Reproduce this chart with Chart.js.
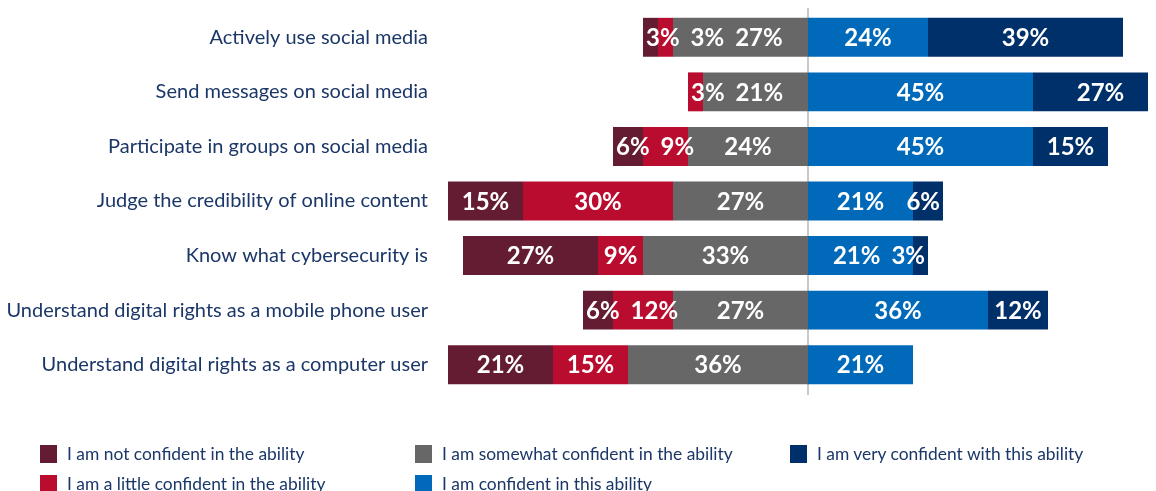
<!DOCTYPE html>
<html>
<head>
<meta charset="utf-8">
<script src="https://cdn.jsdelivr.net/npm/chart.js@4"></script>
<style>
  html, body { margin: 0; padding: 0; background: #fff; overflow: hidden; }
  #wrap { position: relative; width: 1156px; height: 491px; }
  #chartBox { position: absolute; left: 0; top: 0; width: 1156px; height: 400px; }
  #legend { position: absolute; left: 0; top: 0; width: 1156px; height: 491px; pointer-events: none; }
  .item { position: absolute; display: flex; align-items: center; font-family: Lato, "Open Sans", sans-serif; font-size: 17.4px; color: #1b3768; white-space: nowrap; }
  .item span.box { display: inline-block; width: 17px; height: 18px; margin-right: 10px; }
</style>
</head>
<body>
<div id="wrap">
  <div id="chartBox"><canvas id="myChart" width="1156" height="400"></canvas></div>
  <div id="legend"></div>
</div>
<script>
const categories = [
  "Actively use social media",
  "Send messages on social media",
  "Participate in groups on social media",
  "Judge the credibility of online content",
  "Know what cybersecurity is",
  "Understand digital rights as a mobile phone user",
  "Understand digital rights as a computer user"
];

// percentages per answer, one entry per category
const notConfident      = [3, 0, 6, 15, 27, 6, 21];
const littleConfident   = [3, 3, 9, 30, 9, 12, 15];
const somewhatConfident = [27, 21, 24, 27, 33, 27, 36];
const confident         = [24, 45, 45, 21, 21, 36, 21];
const veryConfident     = [39, 27, 15, 6, 3, 12, 0];

const seriesNames = [
  "I am not confident in the ability",
  "I am a little confident in the ability",
  "I am somewhat confident in the ability",
  "I am confident in this ability",
  "I am very confident with this ability"
];
const seriesColors = ["#641c32", "#ba0c2f", "#676767", "#0069b9", "#003069"];

const navy = "#1b3768";

// negative side stacks outward from zero, so the "somewhat" series goes first
const datasets = [
  { label: seriesNames[2], data: somewhatConfident.map(v => -v), backgroundColor: seriesColors[2] },
  { label: seriesNames[1], data: littleConfident.map(v => -v),   backgroundColor: seriesColors[1] },
  { label: seriesNames[0], data: notConfident.map(v => -v),      backgroundColor: seriesColors[0] },
  { label: seriesNames[3], data: confident,                      backgroundColor: seriesColors[3] },
  { label: seriesNames[4], data: veryConfident,                  backgroundColor: seriesColors[4] }
];
datasets.forEach(d => { d.borderWidth = 0; d.barPercentage = 0.713; d.categoryPercentage = 1; });

// zero line behind the bars
const zeroLine = {
  id: 'zeroLine',
  beforeDatasetsDraw(chart) {
    const { ctx, chartArea, scales } = chart;
    const x = Math.round(scales.x.getPixelForValue(0));
    ctx.save();
    ctx.strokeStyle = '#c9c9c9';
    ctx.lineWidth = 2;
    ctx.beginPath();
    ctx.moveTo(x, chartArea.top - 2);
    ctx.lineTo(x, chartArea.bottom + 3);
    ctx.stroke();
    ctx.restore();
  }
};

// white value labels; small segments get their label pushed inward so neighbours don't collide
const valueLabels = {
  id: 'valueLabels',
  afterDatasetsDraw(chart) {
    const { ctx } = chart;
    ctx.save();
    ctx.font = 'bold 24px Lato, "Open Sans", sans-serif';
    ctx.fillStyle = '#fff';
    ctx.textAlign = 'center';
    ctx.textBaseline = 'middle';
    const gap = 11;
    const item = (di, i) => ({ el: chart.getDatasetMeta(di).data[i], v: chart.data.datasets[di].data[i] });
    categories.forEach((c, i) => {
      // left side, outermost first, moving right
      let prevRight = -Infinity;
      [2, 1, 0].map(di => item(di, i)).filter(o => o.v !== 0).forEach((o, k) => {
        const txt = Math.abs(o.v) + '%';
        const w = ctx.measureText(txt).width;
        let cx = (o.el.x + o.el.base) / 2;
        if (k === 0) cx = Math.max(cx, Math.min(o.el.x, o.el.base) + 3 + w / 2);
        cx = Math.max(cx, prevRight + gap + w / 2);
        ctx.fillText(txt, cx, o.el.y + 1);
        prevRight = cx + w / 2;
      });
      // right side, outermost first, moving left
      let prevLeft = Infinity;
      [4, 3].map(di => item(di, i)).filter(o => o.v !== 0).forEach((o, k) => {
        const txt = o.v + '%';
        const w = ctx.measureText(txt).width;
        let cx = (o.el.x + o.el.base) / 2;
        if (k === 0) cx = Math.min(cx, Math.max(o.el.x, o.el.base) - 3 - w / 2);
        cx = Math.min(cx, prevLeft - gap - w / 2);
        ctx.fillText(txt, cx, o.el.y + 1);
        prevLeft = cx - w / 2;
      });
    });
    ctx.restore();
  }
};

const ctx = document.getElementById('myChart').getContext('2d');
const myChart = new Chart(ctx, {
  type: 'bar',
  data: { labels: categories, datasets: datasets },
  options: {
    indexAxis: 'y',
    responsive: false,
    animation: false,
    layout: { padding: { top: 10, bottom: 8, right: 8, left: 0 } },
    plugins: { legend: { display: false }, tooltip: { enabled: false } },
    scales: {
      x: { stacked: true, min: -75, max: 68, display: false },
      y: {
        stacked: true,
        grid: { display: false, drawTicks: false },
        border: { display: false },
        ticks: { padding: 5, color: navy, font: { family: 'Lato, "Open Sans", sans-serif', size: 20 } },
        afterFit(scale) {
          scale.width = 433;
          scale.paddingTop = 0;
          scale.paddingBottom = 0;
        }
      }
    }
  },
  plugins: [zeroLine, valueLabels]
});

// legend laid out in columns: not/little, somewhat/confident, very
const legendColumns = [[0, 1], [2, 3], [4]];
const legendEl = document.getElementById('legend');
legendColumns.forEach((col, ci) => {
  col.forEach((si, ri) => {
    const item = document.createElement('div');
    item.className = 'item';
    item.style.left = (40 + ci * 375) + 'px';
    item.style.top = (443 + ri * 30) + 'px';
    item.innerHTML = '<span class="box" style="background:' + seriesColors[si] + '"></span>' + seriesNames[si];
    legendEl.appendChild(item);
  });
});
</script>
</body>
</html>
